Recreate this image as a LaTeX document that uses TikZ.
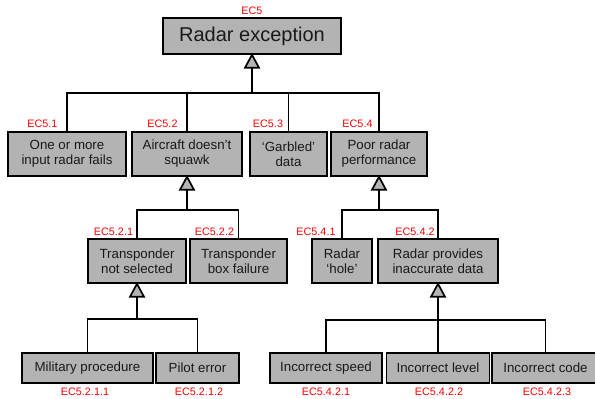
\documentclass[tikz,border=0pt]{standalone}
\usepackage{fontspec}
\setmainfont{Liberation Sans}
\definecolor{boxgray}{RGB}{179,179,179}
\tikzset{
  ev/.style={draw=black, line width=1.6pt, fill=boxgray, inner sep=0pt, align=center,
    font=\fontsize{13.3}{15}\selectfont, text=black!90},
  lab/.style={text=red, font=\fontsize{10.8}{12}\selectfont, inner sep=0pt},
  conn/.style={line width=1.9pt, line join=miter},
  trunk/.style={line width=2.8pt},
  gate/.style={draw=black, fill=boxgray, line width=1.7pt, line join=miter}
}
\begin{document}
\begin{tikzpicture}[x=1pt, y=-1pt]
\useasboundingbox (0,0) rectangle (595,399);
% boxes
\node[ev, minimum width=178pt, minimum height=36pt, font=\fontsize{20}{22}\selectfont] (top) at (252,36) {Radar exception};
\node[ev, minimum width=118pt, minimum height=44pt] (b51) at (67,154) {One or more\\input radar fails};
\node[ev, minimum width=110pt, minimum height=44pt] (b52) at (187,154) {Aircraft doesn’t\\squawk};
\node[ev, minimum width=77pt, minimum height=44pt] (b53) at (288.5,154) {‘Garbled’\\data};
\node[ev, minimum width=96pt, minimum height=44pt] (b54) at (379,154) {Poor radar\\performance};
\node[ev, minimum width=98pt, minimum height=44pt] (b521) at (137,261) {Transponder\\not selected};
\node[ev, minimum width=97pt, minimum height=44pt] (b522) at (238.5,261) {Transponder\\box failure};
\node[ev, minimum width=60pt, minimum height=44pt] (b541) at (342,261) {Radar\\‘hole’};
\node[ev, minimum width=120pt, minimum height=44pt] (b542) at (438,261) {Radar provides\\inaccurate data};
\node[ev, minimum width=131pt, minimum height=30pt] (b5211) at (87.5,368) {Military procedure};
\node[ev, minimum width=83pt, minimum height=30pt] (b5212) at (197.5,368) {Pilot error};
\node[ev, minimum width=112pt, minimum height=30pt] (b5421) at (326,368) {Incorrect speed};
\node[ev, minimum width=103pt, minimum height=30pt] (b5422) at (438,368) {Incorrect level};
\node[ev, minimum width=107pt, minimum height=30pt] (b5423) at (545.5,368) {Incorrect code};
% labels
\node[lab] (l5) at (252,11) {EC5};
\node[lab] (l51) at (42.5,124) {EC5.1};
\node[lab] (l52) at (162.5,124) {EC5.2};
\node[lab] (l53) at (268,124) {EC5.3};
\node[lab] (l54) at (357.5,124) {EC5.4};
\node[lab] (l521) at (113.5,232) {EC5.2.1};
\node[lab] (l522) at (214.5,232) {EC5.2.2};
\node[lab] (l541) at (316,232) {EC5.4.1};
\node[lab] (l542) at (415,232) {EC5.4.2};
\node[lab] (l5211) at (85,392) {EC5.2.1.1};
\node[lab] (l5212) at (199,392) {EC5.2.1.2};
\node[lab] (l5421) at (326,392) {EC5.4.2.1};
\node[lab] (l5422) at (439,392) {EC5.4.2.2};
\node[lab] (l5423) at (547,392) {EC5.4.2.3};
% junctions
\coordinate (j5) at (252,93);
\coordinate (j52) at (187,210);
\coordinate (j54) at (379,210);
\coordinate (j521) at (137,319);
\coordinate (j542) at (438,320);
% gate bases
\coordinate (g5) at ([yshift=-13pt]top.south);
\coordinate (g52) at ([yshift=-13pt]b52.south);
\coordinate (g54) at ([yshift=-13pt]b54.south);
\coordinate (g521) at ([yshift=-13pt]b521.south);
\coordinate (g542) at ([yshift=-13pt]b542.south);
% connectors level 1
\draw[trunk] (g5) -- (j5);
\draw[conn] (b51.north) |- (j5) -| (b54.north);
\draw[trunk] (b52.north) -- (b52.north |- j5);
\draw[conn] (b53.north) -- (b53.north |- j5);
% level 2
\draw[trunk] (g52) -- (j52);
\draw[conn] (b521.north) |- (j52) -| (b522.north);
\draw[trunk] (g54) -- (j54);
\draw[conn] (b541.north) |- (j54) -| (b542.north);
% level 3
\draw[trunk] (g521) -- (j521);
\draw[conn] (b5211.north) |- (j521) -| (b5212.north);
\draw[trunk] (g542) -- (b5422.north);
\draw[conn] (b5421.north) |- (j542) -| (b5423.north);
% gates
\draw[gate] (top.south) -- ++(7,13) -- ++(-14,0) -- cycle;
\draw[gate] (b52.south) -- ++(7,13) -- ++(-14,0) -- cycle;
\draw[gate] (b54.south) -- ++(7,13) -- ++(-14,0) -- cycle;
\draw[gate] (b521.south) -- ++(7,13) -- ++(-14,0) -- cycle;
\draw[gate] (b542.south) -- ++(7,13) -- ++(-14,0) -- cycle;
\end{tikzpicture}
\end{document}
